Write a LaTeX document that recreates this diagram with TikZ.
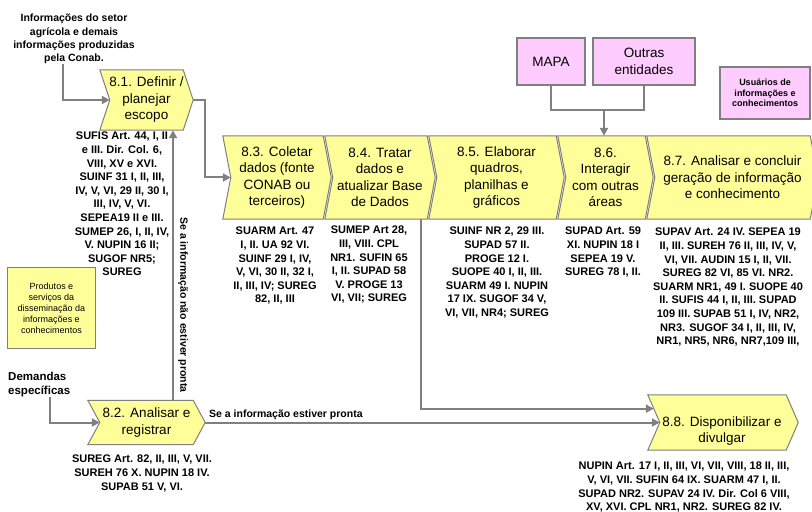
\documentclass[tikz,border=0pt]{standalone}
\usepackage{fontspec}
\setmainfont{Liberation Sans}
\usetikzlibrary{arrows.meta,backgrounds,calc}

\definecolor{procfill}{HTML}{FFFF99}
\definecolor{actorfill}{HTML}{FFCCFF}
\definecolor{edgegray}{HTML}{808080}
\definecolor{linegray}{HTML}{7F7F7F}

% Chevron outline behind a stage node: #1 node name, #2 half notch depth (bp)
\newcommand\chevbody[2]{%
  \begin{pgfonlayer}{background}
    \path[chevshape] ([xshift=-#2bp]#1.north west) -- ([xshift=-#2bp]#1.north east)
      -- ([xshift=#2bp]#1.east) -- ([xshift=-#2bp]#1.south east)
      -- ([xshift=-#2bp]#1.south west) -- ([xshift=#2bp]#1.west) -- cycle;
  \end{pgfonlayer}
  \coordinate (#1-in) at ([xshift=#2bp]#1.west);
  \coordinate (#1-out) at ([xshift=#2bp]#1.east);
}

\tikzset{
  stage/.style={rectangle, inner sep=0pt, align=center,
    font=\fontsize{13.5bp}{16.5bp}\selectfont},
  chevshape/.style={fill=procfill, draw=linegray, line width=1bp, line join=miter},
  refs/.style={anchor=north, inner sep=0pt, align=center,
    font=\bfseries\fontsize{11bp}{13.6bp}\selectfont},
  actor/.style={rectangle, draw=linegray, fill=actorfill, line width=1.2bp,
    inner sep=0pt, align=center, font=\fontsize{13.5bp}{16.5bp}\selectfont},
  legendbox/.style={rectangle, draw=linegray, line width=1bp, inner sep=0pt, align=center},
  conn/.style={draw=edgegray, line width=2bp},
  arr/.style={conn, -{Triangle[length=8bp,width=8bp]}},
  note/.style={inner sep=0pt, align=center,
    font=\bfseries\fontsize{10.5bp}{13.3bp}\selectfont},
}

\begin{document}
\begin{tikzpicture}[x=1bp,y=-1bp]
\begin{pgfonlayer}{background}
  \fill[white] (0,0) rectangle (812,512);
\end{pgfonlayer}
\useasboundingbox (0,0) rectangle (812,512);

% ---- stages ----
\node[stage, minimum width=83bp, minimum height=60bp] (s81) at (146.5,100)
  {8.1. Definir /\\planejar\\escopo};
\chevbody{s81}{5}
\node[stage, minimum width=105bp, minimum height=44bp] (s82) at (146.5,422.5)
  {8.2. Analisar e\\registrar};
\chevbody{s82}{6}
\node[stage, minimum width=100bp, minimum height=83bp] (s83) at (277,177.5)
  {8.3. Coletar\\dados (fonte\\CONAB ou\\terceiros)};
\chevbody{s83}{4}
\node[stage, minimum width=102bp, minimum height=83bp] (s84) at (380,177.5)
  {8.4. Tratar\\dados e\\atualizar Base\\de Dados};
\chevbody{s84}{4}
\node[stage, minimum width=127bp, minimum height=83bp] (s85) at (496.5,177.5)
  {8.5. Elaborar\\quadros,\\planilhas e\\gráficos};
\chevbody{s85}{4}
\node[stage, minimum width=87bp, minimum height=83bp] (s86) at (605.5,177.5)
  {8.6.\\Interagir\\com outras\\áreas};
\chevbody{s86}{4}
\node[stage, minimum width=163bp, minimum height=83bp] (s87) at (732.5,177.5)
  {8.7. Analisar e concluir\\geração de informação\\e conhecimento};
\chevbody{s87}{4}
% 8.8: outline node, with its caption set a little low inside it
\node[stage, minimum width=138bp, minimum height=55bp] (s88) at (723,422.5) {};
\chevbody{s88}{6}
\node[stage] (s88t) at (722,431) {8.8. Disponibilizar e\\divulgar};

% ---- actors ----
\node[actor, minimum width=68bp, minimum height=47bp] (mapa) at (551,61.5) {MAPA};
\node[actor, minimum width=102bp, minimum height=47bp] (outras) at (644,61.5) {Outras\\entidades};
\node[actor, minimum width=90bp, minimum height=52bp,
  font=\bfseries\fontsize{9bp}{10.5bp}\selectfont] (users) at (765,93)
  {Usuários de\\informações e\\conhecimentos};
\node[legendbox, fill=procfill, minimum width=87bp, minimum height=80bp,
  font=\fontsize{9bp}{11bp}\selectfont] (legprod) at (51.5,308)
  {Produtos e\\serviços da\\disseminação da\\informações e\\conhecimentos};

% ---- inputs ----
\node[note, anchor=north] (src) at (74,14)
  {Informações do setor\\agrícola e demais\\informações produzidas\\pela Conab.};
\node[note, anchor=north west, align=left,
  font=\bfseries\fontsize{11.5bp}{14bp}\selectfont] (dem) at (8,372)
  {Demandas\\específicas};

% ---- legal references ----
\node[refs] (r81) at (122,132) {SUFIS Art. 44, I, II\\e III. Dir. Col. 6,\\VIII, XV e XVI.\\SUINF 31 I, II, III,\\IV, V, VI, 29 II, 30 I,\\III, IV, V, VI.\\SEPEA19 II e III.\\SUMEP 26, I, II, IV,\\V. NUPIN 16 II;\\SUGOF NR5;\\SUREG};
\node[refs] (r83) at (275,227) {SUARM Art. 47\\I, II. UA 92 VI.\\SUINF 29 I, IV,\\V, VI, 30 II, 32 I,\\II, III, IV; SUREG\\82, II, III};
\node[refs] (r84) at (369,226) {SUMEP Art 28,\\III, VIII. CPL\\NR1. SUFIN 65\\I, II. SUPAD 58\\V. PROGE 13\\VI, VII; SUREG};
\node[refs] (r85) at (497,227) {SUINF NR 2, 29 III.\\SUPAD 57 II.\\PROGE 12 I.\\SUOPE 40 I, II, III.\\SUARM 49 I. NUPIN\\17 IX. SUGOF 34 V,\\VI, VII, NR4; SUREG};
\node[refs] (r86) at (603,227) {SUPAD Art. 59\\XI. NUPIN 18 I\\SEPEA 19 V.\\SUREG 78 I, II.};
\node[refs] (r87) at (728,228) {SUPAV Art. 24 IV. SEPEA 19\\II, III. SUREH 76 II, III, IV, V,\\VI, VII. AUDIN 15 I, II, VII.\\SUREG 82 VI, 85 VI. NR2.\\SUARM NR1, 49 I. SUOPE 40\\II. SUFIS 44 I, II, III. SUPAD\\109 III. SUPAB 51 I, IV, NR2,\\NR3. SUGOF 34 I, II, III, IV,\\NR1, NR5, NR6, NR7,109 III,};
\node[refs] (r82) at (142,455) {SUREG Art. 82, II, III, V, VII.\\SUREH 76 X. NUPIN 18 IV.\\SUPAB 51 V, VI.};
\node[refs] (r88) at (684,462) {NUPIN Art. 17 I, II, III, VI, VII, VIII, 18 II, III,\\V, VI, VII. SUFIN 64 IX. SUARM 47 I, II.\\SUPAD NR2. SUPAV 24 IV. Dir. Col 6 VIII,\\XV, XVI. CPL NR1, NR2. SUREG 82 IV.};

% ---- connectors ----
\draw[arr] ([xshift=-11bp]src.south) |- (s81-in);
\draw[arr] (s81-out) -- ++(12,0) |- (s83-in);
\draw[arr] ([xshift=11bp]dem.south) |- (s82-in);
\draw[arr] ([xshift=26.5bp]s82.north) -- ([xshift=26.5bp]s82.north |- s81.south);
\node[note, rotate=-90] (notready) at (183,305) {Se a informação não estiver pronta};
\draw[arr] ([xshift=41bp]s84.south) |- ($([xshift=-6bp]s88.north west)!0.5!(s88-in)$);
\draw[arr] (s82-out) -- node[note, pos=0, anchor=south west, xshift=3bp, yshift=2bp] (ready)
  {Se a informação estiver pronta} (s88-in);
\coordinate (mj) at (604,110);
\draw[conn] (mapa.south) |- (mj) -| (outras.south);
\draw[arr] (mj) -- (mj |- s86.north);
\end{tikzpicture}
\end{document}
